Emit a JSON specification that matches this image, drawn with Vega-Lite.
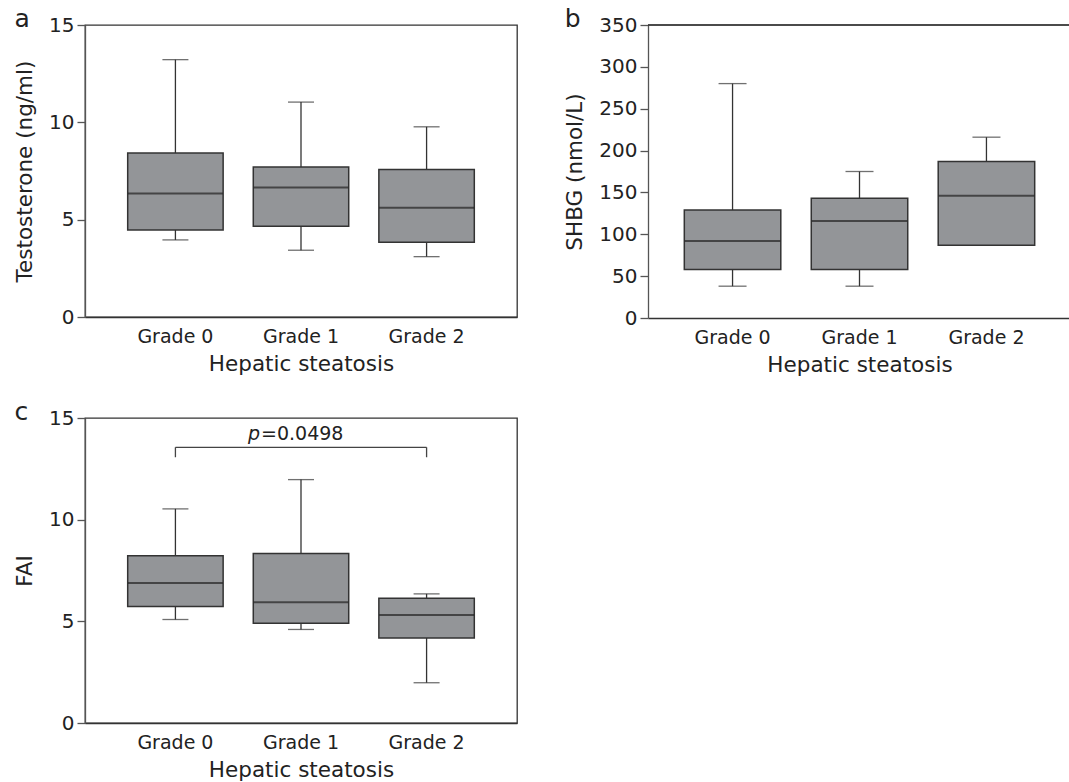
{
  "$schema": "https://vega.github.io/schema/vega-lite/v6.json",
  "padding": {"left": 13, "top": 6, "right": 0, "bottom": 0},
  "config": {
    "font": "DejaVu Sans",
    "view": {"stroke": "#333", "strokeWidth": 1.3},
    "axis": {
      "grid": false,
      "domainColor": "#555",
      "domainWidth": 1.3,
      "tickColor": "#555",
      "labelFont": "DejaVu Sans",
      "titleFont": "DejaVu Sans",
      "labelColor": "#222",
      "titleColor": "#222",
      "labelFontSize": 19,
      "titleFontSize": 21.5,
      "titleFontWeight": "normal"
    },
    "axisY": {"tickSize": 8, "tickWidth": 1.3, "labelPadding": 3, "titlePadding": 12, "labelFontSize": 20},
    "axisX": {"ticks": false, "tickSize": 0, "labelAngle": 0, "labelPadding": 10, "titlePadding": 7, "domainColor": "#333"},
    "title": {"fontSize": 25, "fontWeight": "normal", "color": "#222", "anchor": "start", "frame": "bounds", "offset": 0, "baseline": "alphabetic", "dy": 21}
  },
  "datasets": {
    "testosterone": [
      {"grade": "Grade 0", "min": 3.96, "q1": 4.47, "median": 6.34, "q3": 8.42, "max": 13.22},
      {"grade": "Grade 1", "min": 3.43, "q1": 4.66, "median": 6.65, "q3": 7.70, "max": 11.04},
      {"grade": "Grade 2", "min": 3.10, "q1": 3.84, "median": 5.61, "q3": 7.58, "max": 9.77}
    ],
    "shbg": [
      {"grade": "Grade 0", "min": 38, "q1": 58, "median": 92, "q3": 129, "max": 280},
      {"grade": "Grade 1", "min": 38, "q1": 58, "median": 116, "q3": 143, "max": 175},
      {"grade": "Grade 2", "min": 87, "q1": 87, "median": 146, "q3": 187, "max": 216}
    ],
    "fai": [
      {"grade": "Grade 0", "min": 5.09, "q1": 5.73, "median": 6.88, "q3": 8.22, "max": 10.53},
      {"grade": "Grade 1", "min": 4.60, "q1": 4.91, "median": 5.94, "q3": 8.33, "max": 11.97},
      {"grade": "Grade 2", "min": 1.98, "q1": 4.18, "median": 5.31, "q3": 6.14, "max": 6.35}
    ],
    "bracket": [
      {"from": "Grade 0", "to": "Grade 2", "mid": "Grade 1", "top": 13.56, "leg": 13.07, "labelY": 13.9, "pSym": "p", "pVal": "=0.0498"}
    ]
  },
  "spacing": 23,
  "vconcat": [
    {
      "spacing": 46,
      "hconcat": [
        {
          "title": {"text": "a"},
          "width": 432,
          "height": 292,
          "data": {"name": "testosterone"},
          "encoding": {
            "x": {"field": "grade", "type": "nominal", "scale": {"paddingInner": 0.24, "paddingOuter": 0.34}, "axis": {"title": "Hepatic steatosis"}}
          },
          "layer": [
            {"mark": {"type": "rule", "color": "#333", "strokeWidth": 1.3},
             "encoding": {"y": {"field": "min", "type": "quantitative", "title": "Testosterone (ng/ml)", "scale": {"domain": [0, 15], "nice": false}, "axis": {"values": [0, 5, 10, 15]}}, "y2": {"field": "max"}}},
            {"mark": {"type": "tick", "color": "#333", "thickness": 1.3, "size": 26},
             "encoding": {"y": {"field": "min", "type": "quantitative", "title": "Testosterone (ng/ml)", "scale": {"domain": [0, 15], "nice": false}}}},
            {"mark": {"type": "tick", "color": "#333", "thickness": 1.3, "size": 26},
             "encoding": {"y": {"field": "max", "type": "quantitative", "title": "Testosterone (ng/ml)", "scale": {"domain": [0, 15], "nice": false}}}},
            {"mark": {"type": "bar", "fill": "#939598", "stroke": "#333", "strokeWidth": 1.5, "width": {"band": 1}},
             "encoding": {"y": {"field": "q1", "type": "quantitative", "title": "Testosterone (ng/ml)", "scale": {"domain": [0, 15], "nice": false}}, "y2": {"field": "q3"}}},
            {"mark": {"type": "tick", "color": "#222", "thickness": 2, "size": 95},
             "encoding": {"y": {"field": "median", "type": "quantitative", "title": "Testosterone (ng/ml)", "scale": {"domain": [0, 15], "nice": false}}}}
          ]
        },
        {
          "title": {"text": "b"},
          "width": 423,
          "height": 293,
          "view": {"stroke": null},
          "data": {"name": "shbg"},
          "layer": [
            {"mark": {"type": "rule", "color": "#333", "strokeWidth": 1.2},
             "encoding": {"y": {"datum": 350, "type": "quantitative", "title": "SHBG (nmol/L)", "scale": {"domain": [0, 350], "nice": false}, "axis": {"values": [0, 50, 100, 150, 200, 250, 300, 350]}}}},
            {"mark": {"type": "rule", "color": "#333", "strokeWidth": 1.3},
             "encoding": {
               "x": {"field": "grade", "type": "nominal", "scale": {"paddingInner": 0.24, "paddingOuter": 0.286}, "axis": {"title": "Hepatic steatosis"}},
               "y": {"field": "min", "type": "quantitative", "title": "SHBG (nmol/L)", "scale": {"domain": [0, 350], "nice": false}}, "y2": {"field": "max"}}},
            {"mark": {"type": "tick", "color": "#333", "thickness": 1.3, "size": 28},
             "encoding": {
               "x": {"field": "grade", "type": "nominal"},
               "y": {"field": "min", "type": "quantitative", "title": "SHBG (nmol/L)", "scale": {"domain": [0, 350], "nice": false}}}},
            {"mark": {"type": "tick", "color": "#333", "thickness": 1.3, "size": 28},
             "encoding": {
               "x": {"field": "grade", "type": "nominal"},
               "y": {"field": "max", "type": "quantitative", "title": "SHBG (nmol/L)", "scale": {"domain": [0, 350], "nice": false}}}},
            {"mark": {"type": "bar", "fill": "#939598", "stroke": "#333", "strokeWidth": 1.5, "width": {"band": 1}},
             "encoding": {
               "x": {"field": "grade", "type": "nominal"},
               "y": {"field": "q1", "type": "quantitative", "title": "SHBG (nmol/L)", "scale": {"domain": [0, 350], "nice": false}}, "y2": {"field": "q3"}}},
            {"mark": {"type": "tick", "color": "#222", "thickness": 2, "size": 96},
             "encoding": {
               "x": {"field": "grade", "type": "nominal"},
               "y": {"field": "median", "type": "quantitative", "title": "SHBG (nmol/L)", "scale": {"domain": [0, 350], "nice": false}}}}
          ]
        }
      ]
    },
    {
      "title": {"text": "c"},
      "width": 432,
      "height": 305,
      "encoding": {
        "x": {"field": "grade", "type": "nominal", "scale": {"paddingInner": 0.24, "paddingOuter": 0.34}, "axis": {"title": "Hepatic steatosis"}}
      },
      "layer": [
        {"data": {"name": "fai"}, "mark": {"type": "rule", "color": "#333", "strokeWidth": 1.3},
         "encoding": {"y": {"field": "min", "type": "quantitative", "title": "FAI", "scale": {"domain": [0, 15], "nice": false}, "axis": {"values": [0, 5, 10, 15]}}, "y2": {"field": "max"}}},
        {"data": {"name": "fai"}, "mark": {"type": "tick", "color": "#333", "thickness": 1.3, "size": 26},
         "encoding": {"y": {"field": "min", "type": "quantitative", "title": "FAI", "scale": {"domain": [0, 15], "nice": false}}}},
        {"data": {"name": "fai"}, "mark": {"type": "tick", "color": "#333", "thickness": 1.3, "size": 26},
         "encoding": {"y": {"field": "max", "type": "quantitative", "title": "FAI", "scale": {"domain": [0, 15], "nice": false}}}},
        {"data": {"name": "fai"}, "mark": {"type": "bar", "fill": "#939598", "stroke": "#333", "strokeWidth": 1.5, "width": {"band": 1}},
         "encoding": {"y": {"field": "q1", "type": "quantitative", "title": "FAI", "scale": {"domain": [0, 15], "nice": false}}, "y2": {"field": "q3"}}},
        {"data": {"name": "fai"}, "mark": {"type": "tick", "color": "#222", "thickness": 2, "size": 95},
         "encoding": {"y": {"field": "median", "type": "quantitative", "title": "FAI", "scale": {"domain": [0, 15], "nice": false}}}},
        {"data": {"name": "bracket"}, "mark": {"type": "rule", "color": "#444", "strokeWidth": 1.3},
         "encoding": {"x": {"field": "from", "type": "nominal"}, "x2": {"field": "to"}, "y": {"field": "top", "type": "quantitative", "title": "FAI", "scale": {"domain": [0, 15], "nice": false}}}},
        {"data": {"name": "bracket"}, "mark": {"type": "rule", "color": "#444", "strokeWidth": 1.3},
         "encoding": {"x": {"field": "from", "type": "nominal"}, "y": {"field": "leg", "type": "quantitative", "title": "FAI", "scale": {"domain": [0, 15], "nice": false}}, "y2": {"field": "top"}}},
        {"data": {"name": "bracket"}, "mark": {"type": "rule", "color": "#444", "strokeWidth": 1.3},
         "encoding": {"x": {"field": "to", "type": "nominal"}, "y": {"field": "leg", "type": "quantitative", "title": "FAI", "scale": {"domain": [0, 15], "nice": false}}, "y2": {"field": "top"}}},
        {"data": {"name": "bracket"}, "mark": {"type": "text", "fontSize": 19, "fontStyle": "italic", "color": "#222", "align": "right", "baseline": "alphabetic", "dx": -41},
         "encoding": {"x": {"field": "mid", "type": "nominal"}, "y": {"field": "labelY", "type": "quantitative", "title": "FAI", "scale": {"domain": [0, 15], "nice": false}}, "text": {"field": "pSym"}}},
        {"data": {"name": "bracket"}, "mark": {"type": "text", "fontSize": 19, "color": "#222", "align": "left", "baseline": "alphabetic", "dx": -40},
         "encoding": {"x": {"field": "mid", "type": "nominal"}, "y": {"field": "labelY", "type": "quantitative", "title": "FAI", "scale": {"domain": [0, 15], "nice": false}}, "text": {"field": "pVal"}}}
      ]
    }
  ]
}
